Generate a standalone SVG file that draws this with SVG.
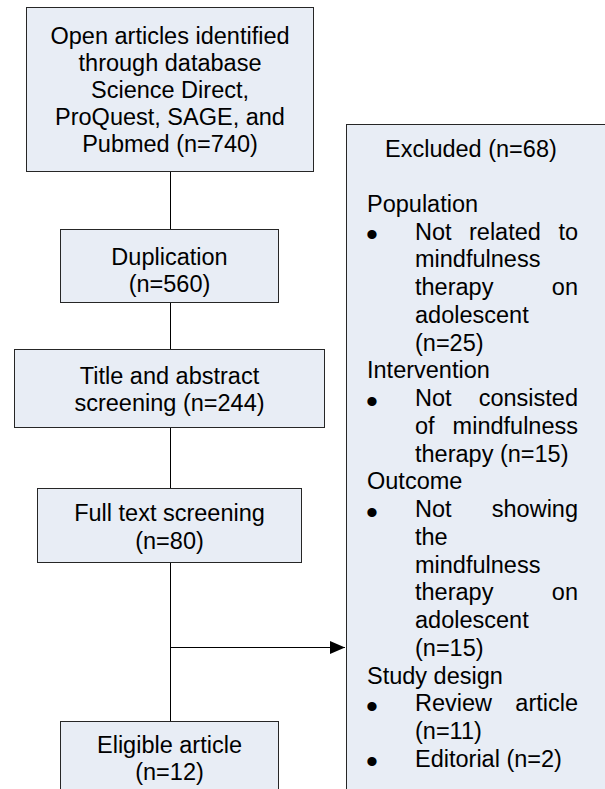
<svg xmlns="http://www.w3.org/2000/svg" width="605" height="789" viewBox="0 0 605 789">
<defs>
<style>
.box{fill:#E8EDF5;stroke:#262626;stroke-width:1}
.t{font-family:"Liberation Sans",Arial,sans-serif;font-size:23.5px;fill:#000}
.b{font-family:"Liberation Sans",Arial,sans-serif;font-size:34px;fill:#000;text-anchor:middle}
.c{text-anchor:middle}
.e{text-anchor:end}
.con{stroke:#000;stroke-width:1;fill:none}
</style>
<marker id="arr" markerWidth="15" markerHeight="13" refX="15" refY="6.5" orient="auto" markerUnits="userSpaceOnUse">
<path d="M0,0 L15,6.5 L0,13 Z" fill="#000"/>
</marker>
</defs>
<rect width="605" height="789" fill="#fff"/>
<g id="connectors">
<line class="con" x1="170.5" y1="172" x2="170.5" y2="229"/>
<line class="con" x1="170.5" y1="303" x2="170.5" y2="349"/>
<line class="con" x1="170.5" y1="428" x2="170.5" y2="488"/>
<line class="con" x1="170.5" y1="563" x2="170.5" y2="721"/>
<line class="con" x1="170.5" y1="647.5" x2="345" y2="647.5" marker-end="url(#arr)"/>
</g>
<g id="identified">
<rect class="box" x="26.5" y="7.5" width="287" height="164"/>
<text class="t c" x="170" y="43.5">Open articles identified</text>
<text class="t c" x="170" y="70.5">through database</text>
<text class="t c" x="170" y="97.5">Science Direct,</text>
<text class="t c" x="170" y="124.5">ProQuest, SAGE, and</text>
<text class="t c" x="170" y="151.5">Pubmed (n=740)</text>
</g>
<g id="duplication">
<rect class="box" x="60.5" y="229.5" width="218" height="73"/>
<text class="t c" x="169.5" y="264.5">Duplication</text>
<text class="t c" x="169.5" y="291.5">(n=560)</text>
</g>
<g id="title-abstract">
<rect class="box" x="14.5" y="349.5" width="310" height="78"/>
<text class="t c" x="169.5" y="384">Title and abstract</text>
<text class="t c" x="169.5" y="411">screening (n=244)</text>
</g>
<g id="full-text">
<rect class="box" x="37.5" y="488.5" width="264" height="74"/>
<text class="t c" x="169.5" y="521">Full text screening</text>
<text class="t c" x="169.5" y="548.5">(n=80)</text>
</g>
<g id="eligible">
<rect class="box" x="60.5" y="721.5" width="218" height="100"/>
<text class="t c" x="169.5" y="753">Eligible article</text>
<text class="t c" x="169.5" y="780">(n=12)</text>
</g>
<g id="excluded">
<rect class="box" x="346.5" y="124.5" width="300" height="700"/>
<text class="t" x="385" y="157">Excluded (n=68)</text>
<text class="t" x="367" y="212">Population</text>
<text class="b" x="372" y="246">•</text>
<text class="t" x="415" y="239.5">Not</text><text class="t" x="469" y="239.5">related</text><text class="t e" x="578" y="239.5">to</text>
<text class="t" x="415" y="267">mindfulness</text>
<text class="t" x="415" y="295">therapy</text><text class="t e" x="578" y="295">on</text>
<text class="t" x="415" y="322.5">adolescent</text>
<text class="t" x="415" y="350.5">(n=25)</text>
<text class="t" x="367" y="378">Intervention</text>
<text class="b" x="372" y="412.5">•</text>
<text class="t" x="415" y="406">Not</text><text class="t e" x="578" y="406">consisted</text>
<text class="t" x="415" y="433.5">of</text><text class="t e" x="578" y="433.5">mindfulness</text>
<text class="t" x="415" y="461.5">therapy (n=15)</text>
<text class="t" x="367" y="489">Outcome</text>
<text class="b" x="372" y="523.5">•</text>
<text class="t" x="415" y="517">Not</text><text class="t e" x="578" y="517">showing</text>
<text class="t" x="415" y="544.5">the</text>
<text class="t" x="415" y="572.5">mindfulness</text>
<text class="t" x="415" y="600">therapy</text><text class="t e" x="578" y="600">on</text>
<text class="t" x="415" y="628">adolescent</text>
<text class="t" x="415" y="655.5">(n=15)</text>
<text class="t" x="367" y="683.5">Study design</text>
<text class="b" x="372" y="717.5">•</text>
<text class="t" x="415" y="711">Review</text><text class="t e" x="578" y="711">article</text>
<text class="t" x="415" y="739">(n=11)</text>
<text class="b" x="372" y="773">•</text>
<text class="t" x="415" y="766.5">Editorial (n=2)</text>
</g>
</svg>
